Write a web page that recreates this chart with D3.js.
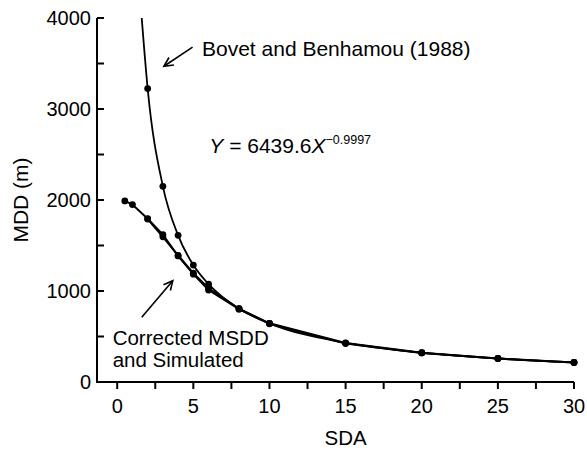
<!DOCTYPE html>
<html>
<head>
<meta charset="utf-8">
<script src="https://cdn.jsdelivr.net/npm/d3@7"></script>
<style>
  body { margin: 0; background: #fff; }
  text { font-family: 'Liberation Sans', Arial, Helvetica, sans-serif; fill: #000; }
</style>
</head>
<body>
<div id="chart"></div>
<script>
// Bovet and Benhamou (1988) fitted curve
const sdaBovet = [2, 3, 4, 5, 6, 8, 10, 15, 20, 25, 30];
const mddBovet = [3225, 2150, 1612, 1285, 1075, 805, 645, 430, 322, 258, 215];
// where the fitted curve leaves the top of the plot
const bovetEntry = [1.61, 4000];

// corrected MSDD
const sdaCorrected = [0.5, 1, 2, 3, 4, 5, 6, 8, 10, 15, 20, 25, 30];
const mddCorrected = [1990, 1950, 1795, 1620, 1385, 1185, 1010, 800, 640, 422, 318, 257, 213];

// simulated
const sdaSimulated = [2, 3, 4, 5, 6, 8, 10, 15, 20, 25, 30];
const mddSimulated = [1790, 1595, 1390, 1195, 1030, 805, 645, 428, 322, 258, 215];

const xTicks = [0, 2.5, 5, 7.5, 10, 12.5, 15, 17.5, 20, 22.5, 25, 27.5, 30];
const yTicks = [0, 500, 1000, 1500, 2000, 2500, 3000, 3500, 4000];

const W = 587, H = 450;
const axisX = 97; // y axis line position

const svg = d3.select('#chart').append('svg')
  .attr('width', W).attr('height', H);

const x = d3.scaleLinear().domain([0, 30]).range([117.2, 574]);
const y = d3.scaleLinear().domain([0, 4000]).range([382, 18]);

// arrow head marker (open V)
svg.append('defs').append('marker')
  .attr('id', 'head')
  .attr('viewBox', '-10 -6 12 12')
  .attr('markerWidth', 12).attr('markerHeight', 12)
  .attr('markerUnits', 'userSpaceOnUse')
  .attr('orient', 'auto')
  .append('path')
  .attr('d', 'M-9,-4.5L0,0L-9,4.5')
  .attr('fill', 'none')
  .attr('stroke', '#000')
  .attr('stroke-width', 1.6);

// x axis
const gx = svg.append('g');
gx.append('line')
  .attr('x1', axisX).attr('x2', x(30))
  .attr('y1', y(0)).attr('y2', y(0))
  .attr('stroke', '#000').attr('stroke-width', 2);
gx.selectAll('.xt').data(xTicks).enter().append('line')
  .attr('x1', d => x(d)).attr('x2', d => x(d))
  .attr('y1', y(0)).attr('y2', y(0) + 7)
  .attr('stroke', '#000').attr('stroke-width', 2);
gx.selectAll('.xl').data(xTicks.filter(d => d % 5 === 0)).enter().append('text')
  .attr('x', d => x(d)).attr('y', y(0) + 31)
  .attr('text-anchor', 'middle')
  .attr('font-size', 20)
  .text(d => d);
svg.append('text')
  .attr('x', (x(0) + x(30)) / 2).attr('y', 445)
  .attr('text-anchor', 'middle')
  .attr('font-size', 20.5)
  .text('SDA');

// y axis
const gy = svg.append('g');
gy.append('line')
  .attr('x1', axisX).attr('x2', axisX)
  .attr('y1', y(0) + 1).attr('y2', y(4000))
  .attr('stroke', '#000').attr('stroke-width', 2);
gy.selectAll('.yt').data(yTicks).enter().append('line')
  .attr('x1', axisX).attr('x2', axisX + 7)
  .attr('y1', d => y(d)).attr('y2', d => y(d))
  .attr('stroke', '#000').attr('stroke-width', 2);
gy.selectAll('.yl').data(yTicks.filter(d => d % 1000 === 0)).enter().append('text')
  .attr('x', axisX - 6).attr('y', d => y(d))
  .attr('dy', '0.36em')
  .attr('text-anchor', 'end')
  .attr('font-size', 20)
  .text(d => d);
svg.append('text')
  .attr('transform', `translate(28,${(y(0) + y(4000)) / 2}) rotate(-90)`)
  .attr('text-anchor', 'middle')
  .attr('font-size', 21)
  .text('MDD (m)');

// series
const pts = (xs, ys) => xs.map((d, i) => [d, ys[i]]);
const bovet = pts(sdaBovet, mddBovet);
const corrected = pts(sdaCorrected, mddCorrected);
const simulated = pts(sdaSimulated, mddSimulated);

const smooth = d3.line().x(d => x(d[0])).y(d => y(d[1])).curve(d3.curveMonotoneX);
const straight = d3.line().x(d => x(d[0])).y(d => y(d[1]));

svg.append('path')
  .datum([bovetEntry, ...bovet])
  .attr('d', smooth)
  .attr('fill', 'none').attr('stroke', '#000').attr('stroke-width', 1.8);

[corrected, simulated].forEach(s => {
  svg.append('path')
    .datum(s)
    .attr('d', straight)
    .attr('fill', 'none').attr('stroke', '#000').attr('stroke-width', 2);
});

[bovet, corrected, simulated].forEach(s => {
  svg.append('g').selectAll('circle').data(s).enter().append('circle')
    .attr('cx', d => x(d[0])).attr('cy', d => y(d[1]))
    .attr('r', 3.4)
    .attr('fill', '#000');
});

// annotations
svg.append('line')
  .attr('x1', x(4.95)).attr('y1', y(3680))
  .attr('x2', x(3.07)).attr('y2', y(3470))
  .attr('stroke', '#000').attr('stroke-width', 1.6)
  .attr('marker-end', 'url(#head)');
svg.append('text')
  .attr('x', x(5.57)).attr('y', y(3582))
  .attr('font-size', 21)
  .text('Bovet and Benhamou (1988)');

const eq = svg.append('text')
  .attr('x', x(6.05)).attr('y', y(2515))
  .attr('font-size', 21);
eq.append('tspan').attr('font-style', 'italic').text('Y');
eq.append('tspan').text(' = 6439.6');
eq.append('tspan').attr('font-style', 'italic').text('X');
eq.append('tspan').attr('font-size', 12.5).attr('dy', -9).text('\u22120.9997');

svg.append('line')
  .attr('x1', x(1.61)).attr('y1', y(711))
  .attr('x2', x(3.65)).attr('y2', y(1113))
  .attr('stroke', '#000').attr('stroke-width', 1.6)
  .attr('marker-end', 'url(#head)');
const labX = x(-0.3);
svg.append('text')
  .attr('x', labX).attr('y', y(410))
  .attr('font-size', 20.5)
  .text('Corrected MSDD');
svg.append('text')
  .attr('x', labX).attr('y', y(410) + 22)
  .attr('font-size', 20.5)
  .text('and Simulated');
</script>
</body>
</html>
